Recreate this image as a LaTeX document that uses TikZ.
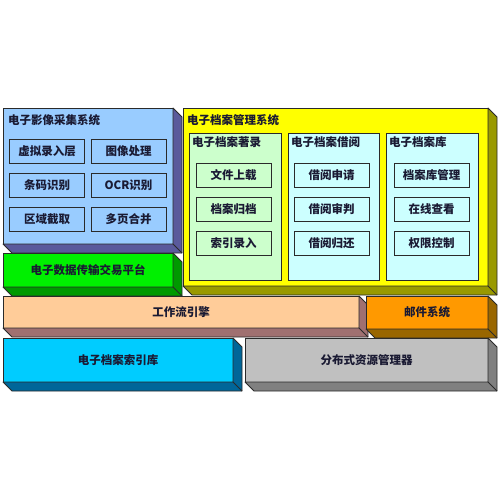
\documentclass[tikz,border=0pt]{standalone}
\usepackage{fontspec}
\newfontfamily\cjk{Noto Sans CJK SC}
\definecolor{txt}{HTML}{1A1A33}
\definecolor{edge}{HTML}{2A2A2A}
\definecolor{bluef}{HTML}{99CCFF}\definecolor{blues}{HTML}{5A5A9C}
\definecolor{greenf}{HTML}{00F000}\definecolor{greens}{HTML}{009900}
\definecolor{yellowf}{HTML}{FFFF00}\definecolor{yellows}{HTML}{999900}
\definecolor{peachf}{HTML}{FFCC99}\definecolor{peachs}{HTML}{A07070}
\definecolor{orangef}{HTML}{FF9900}\definecolor{oranges}{HTML}{996600}
\definecolor{cyanf}{HTML}{00CCFF}\definecolor{cyans}{HTML}{006699}
\definecolor{grayf}{HTML}{C0C0C0}\definecolor{grays}{HTML}{808080}
\definecolor{lgreen}{HTML}{CCFFCC}\definecolor{lcyan}{HTML}{CCFFFF}
\tikzset{
  cjkfont/.style={font=\cjk\bfseries\fontsize{11.5}{13}\selectfont},
  frontbox/.style={draw=edge, line width=0.8pt, rectangle, inner sep=0pt, outer sep=0pt,
    cjkfont, text=txt},
  sideface/.style={draw=edge, line width=0.8pt, line join=round},
  itembox/.style={draw=edge, line width=0.8pt, rectangle, inner sep=0pt, outer sep=0pt,
    minimum width=75pt, minimum height=24pt, cjkfont, text=txt},
  panelbox/.style={draw=edge, line width=0.8pt, rectangle, inner sep=0pt, outer sep=0pt},
  title/.style={anchor=west, inner sep=0pt, cjkfont, text=txt}
}
% name, x1, y1, x2, y2, front, side, text
\newcommand\threedbox[8]{%
  \node[frontbox, fill=#6, minimum width={#4-#2}, minimum height={#5-#3}] (#1) at ({(#2+#4)/2},{(#3+#5)/2}) {#8};
  \filldraw[sideface, fill=#7] (#1.north east) -- ++(9,9) -- ++(0,{#5-#3}) -- ++({-(#4-#2)},0) -- (#1.south west) -- (#1.south east) -- cycle;
  \draw[sideface] (#1.south east) -- ++(9,9);
}
\begin{document}
\begin{tikzpicture}[x=1pt,y=-1pt]
\useasboundingbox[fill=white] (0,0) rectangle (500,500);
% top-left blue system
\threedbox{capture}{3}{108}{173}{244}{bluef}{blues}{}
\node[title] (capt) at (8,120) {电子影像采集系统};
\node[itembox, fill=bluef] (c1) at (47,151) {虚拟录入层};
\node[itembox, fill=bluef] (c2) at (128.5,151) {图像处理};
\node[itembox, fill=bluef] (c3) at (47,185) {条码识别};
\node[itembox, fill=bluef] (c4) at (128.5,185) {OCR识别};
\node[itembox, fill=bluef] (c5) at (47,219) {区域截取};
\node[itembox, fill=bluef] (c6) at (128.5,219) {多页合并};
% green platform
\threedbox{platform}{3}{253}{173}{287}{greenf}{greens}{电子数据传输交易平台}
% yellow management system
\threedbox{manage}{183}{108}{488}{286}{yellowf}{yellows}{}
\node[title] (mant) at (187,120) {电子档案管理系统};
\node[panelbox, fill=lgreen, minimum width=92pt, minimum height=147pt] (p1) at (235,206.5) {};
\node[panelbox, fill=lcyan, minimum width=91pt, minimum height=147pt] (p2) at (333.5,206.5) {};
\node[panelbox, fill=lcyan, minimum width=92pt, minimum height=147pt] (p3) at (432,206.5) {};
\node[title] (p1t) at (192,142) {电子档案著录};
\node[title] (p2t) at (291,142) {电子档案借阅};
\node[title] (p3t) at (389,142) {电子档案库};
\node[itembox, fill=lgreen] (a1) at (233.5,175) {文件上载};
\node[itembox, fill=lgreen] (a2) at (233.5,209) {档案归档};
\node[itembox, fill=lgreen] (a3) at (233.5,243) {索引录入};
\node[itembox, fill=lcyan] (b1) at (331.5,175) {借阅申请};
\node[itembox, fill=lcyan] (b2) at (331.5,209) {借阅审判};
\node[itembox, fill=lcyan] (b3) at (331.5,243) {借阅归还};
\node[itembox, fill=lcyan] (d1) at (431.5,175) {档案库管理};
\node[itembox, fill=lcyan] (d2) at (431.5,209) {在线查看};
\node[itembox, fill=lcyan] (d3) at (431.5,243) {权限控制};
% workflow and mail
\threedbox{workflow}{3}{296}{359}{328}{peachf}{peachs}{工作流引擎}
\threedbox{mail}{366}{296}{488}{329}{orangef}{oranges}{邮件系统}
% index library and resource manager
\threedbox{index}{3}{338}{233}{382}{cyanf}{cyans}{电子档案索引库}
\threedbox{resource}{245}{338}{488}{382}{grayf}{grays}{分布式资源管理器}
\end{tikzpicture}
\end{document}
